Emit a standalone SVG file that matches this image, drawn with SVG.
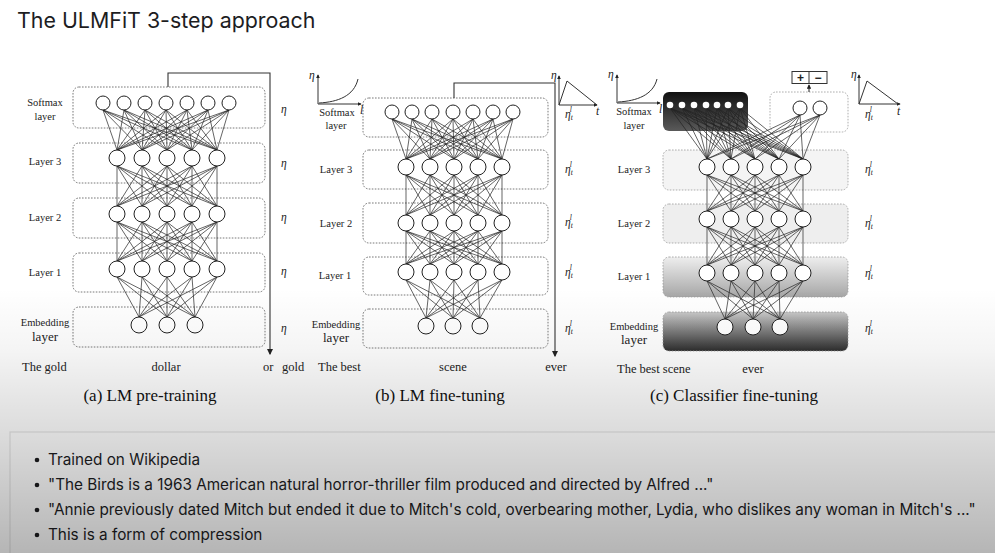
<svg xmlns="http://www.w3.org/2000/svg" width="995" height="553" viewBox="0 0 995 553">
<style>
.n{fill:#fff;stroke:#222;stroke-width:1}
.e{fill:none;stroke:#222;stroke-width:0.7}
.bx{fill:none;stroke:#555;stroke-width:0.8;stroke-dasharray:1.6 1.4}
.bxc{stroke:#999;stroke-width:0.8;stroke-dasharray:1.6 1.4}
.lbl{font-family:"Liberation Serif",serif;font-size:10.5px;fill:#222;text-anchor:middle}
.lbl2{font-family:"Liberation Serif",serif;font-size:13px;fill:#222;text-anchor:middle}
.eta{font-family:"Liberation Serif",serif;font-size:11.5px;font-style:italic;fill:#222}
.wd{font-family:"Liberation Serif",serif;font-size:12.5px;fill:#222}
.cap{font-family:"Liberation Serif",serif;font-size:17px;fill:#111;text-anchor:middle}
.bul{font-family:Inter,"Liberation Sans",sans-serif;font-size:15.3px;fill:#1d1d1f}
.ax{fill:none;stroke:#333;stroke-width:1}
.arr{fill:none;stroke:#333;stroke-width:1.1}
</style>
<defs>
<marker id="ah" viewBox="0 0 6 6" refX="5" refY="3" markerWidth="6" markerHeight="6" orient="auto"><path d="M0 0L6 3L0 6z" fill="#222"/></marker>
<marker id="sa" viewBox="0 0 6 6" refX="5" refY="3" markerWidth="4" markerHeight="4" orient="auto"><path d="M0 0L6 3L0 6z" fill="#222"/></marker>
<linearGradient id="gDark" x1="0" y1="0" x2="0" y2="1"><stop offset="0" stop-color="#111"/><stop offset="1" stop-color="#5a5a5a"/></linearGradient>
<linearGradient id="gL1" x1="0" y1="0" x2="0" y2="1"><stop offset="0" stop-color="#eeeeee"/><stop offset="1" stop-color="#a6a6a6"/></linearGradient>
<linearGradient id="gEmb" x1="0" y1="0" x2="0" y2="1"><stop offset="0" stop-color="#c8c8c8"/><stop offset="1" stop-color="#2e2e2e"/></linearGradient>
<linearGradient id="shade" gradientUnits="userSpaceOnUse" x1="0" y1="0" x2="0" y2="553">
<stop offset="0.52" stop-color="#000" stop-opacity="0"/>
<stop offset="0.63" stop-color="#000" stop-opacity="0.04"/>
<stop offset="0.72" stop-color="#000" stop-opacity="0.1"/>
<stop offset="0.8" stop-color="#000" stop-opacity="0.15"/>
<stop offset="1" stop-color="#000" stop-opacity="0.29"/>
</linearGradient>
</defs>
<rect width="995" height="553" fill="#fff"/>
<text x="17" y="28" font-family="Inter,'Liberation Sans',sans-serif" font-size="21.4" fill="#1d1d1f">The ULMFiT 3-step approach</text>

<!-- Panel a boxes -->
<g id="a-boxes">
<rect class="bx" x="73" y="87" width="192" height="41" rx="6"/>
<rect class="bx" x="73" y="143" width="192" height="40" rx="6"/>
<rect class="bx" x="73" y="198" width="192" height="40" rx="6"/>
<rect class="bx" x="73" y="253" width="192" height="39" rx="6"/>
<rect class="bx" x="73" y="307" width="192" height="40" rx="6"/>
</g>
<!-- Panel b boxes -->
<g id="b-boxes">
<rect class="bx" x="363" y="98" width="185" height="39" rx="6"/>
<rect class="bx" x="363" y="150" width="185" height="39" rx="6"/>
<rect class="bx" x="363" y="203" width="185" height="40" rx="6"/>
<rect class="bx" x="363" y="257" width="185" height="38" rx="6"/>
<rect class="bx" x="363" y="309" width="185" height="39" rx="6"/>
</g>
<!-- Panel c boxes -->
<g id="c-boxes">
<rect x="663" y="92" width="85" height="39" rx="6" fill="url(#gDark)"/>
<rect class="bxc" x="770" y="92" width="78" height="40" rx="6" fill="none"/>
<rect class="bxc" x="663" y="150" width="185" height="40" rx="6" fill="#f4f4f4"/>
<rect class="bxc" x="663" y="204" width="185" height="39" rx="6" fill="#eeeeee"/>
<rect class="bxc" x="663" y="257" width="185" height="40" rx="6" fill="url(#gL1)"/>
<rect class="bxc" x="663" y="312" width="185" height="39" rx="6" fill="url(#gEmb)"/>
</g>

<g id="connectors">
<path class="e" d="M103 110L117 150M103 110L142 150M103 110L167 150M103 110L192 150M103 110L217 150M124 110L117 150M124 110L142 150M124 110L167 150M124 110L192 150M124 110L217 150M145 110L117 150M145 110L142 150M145 110L167 150M145 110L192 150M145 110L217 150M166 110L117 150M166 110L142 150M166 110L167 150M166 110L192 150M166 110L217 150M187 110L117 150M187 110L142 150M187 110L167 150M187 110L192 150M187 110L217 150M208 110L117 150M208 110L142 150M208 110L167 150M208 110L192 150M208 110L217 150M229 110L117 150M229 110L142 150M229 110L167 150M229 110L192 150M229 110L217 150"/>
<path class="e" d="M117 166L117 206M117 166L142 206M117 166L167 206M117 166L192 206M117 166L217 206M142 166L117 206M142 166L142 206M142 166L167 206M142 166L192 206M142 166L217 206M167 166L117 206M167 166L142 206M167 166L167 206M167 166L192 206M167 166L217 206M192 166L117 206M192 166L142 206M192 166L167 206M192 166L192 206M192 166L217 206M217 166L117 206M217 166L142 206M217 166L167 206M217 166L192 206M217 166L217 206"/>
<path class="e" d="M117 222L117 261M117 222L142 261M117 222L167 261M117 222L192 261M117 222L217 261M142 222L117 261M142 222L142 261M142 222L167 261M142 222L192 261M142 222L217 261M167 222L117 261M167 222L142 261M167 222L167 261M167 222L192 261M167 222L217 261M192 222L117 261M192 222L142 261M192 222L167 261M192 222L192 261M192 222L217 261M217 222L117 261M217 222L142 261M217 222L167 261M217 222L192 261M217 222L217 261"/>
<path class="e" d="M117 277L139 317M117 277L167 317M117 277L195 317M142 277L139 317M142 277L167 317M142 277L195 317M167 277L139 317M167 277L167 317M167 277L195 317M192 277L139 317M192 277L167 317M192 277L195 317M217 277L139 317M217 277L167 317M217 277L195 317"/>

<path class="e" d="M392 119L406 159M392 119L430 159M392 119L454 159M392 119L478 159M392 119L502 159M412 119L406 159M412 119L430 159M412 119L454 159M412 119L478 159M412 119L502 159M432 119L406 159M432 119L430 159M432 119L454 159M432 119L478 159M432 119L502 159M453 119L406 159M453 119L430 159M453 119L454 159M453 119L478 159M453 119L502 159M473 119L406 159M473 119L430 159M473 119L454 159M473 119L478 159M473 119L502 159M493 119L406 159M493 119L430 159M493 119L454 159M493 119L478 159M493 119L502 159M513 119L406 159M513 119L430 159M513 119L454 159M513 119L478 159M513 119L502 159"/>
<path class="e" d="M406 175L406 215M406 175L430 215M406 175L454 215M406 175L478 215M406 175L502 215M430 175L406 215M430 175L430 215M430 175L454 215M430 175L478 215M430 175L502 215M454 175L406 215M454 175L430 215M454 175L454 215M454 175L478 215M454 175L502 215M478 175L406 215M478 175L430 215M478 175L454 215M478 175L478 215M478 175L502 215M502 175L406 215M502 175L430 215M502 175L454 215M502 175L478 215M502 175L502 215"/>
<path class="e" d="M406 231L406 264M406 231L430 264M406 231L454 264M406 231L478 264M406 231L502 264M430 231L406 264M430 231L430 264M430 231L454 264M430 231L478 264M430 231L502 264M454 231L406 264M454 231L430 264M454 231L454 264M454 231L478 264M454 231L502 264M478 231L406 264M478 231L430 264M478 231L454 264M478 231L478 264M478 231L502 264M502 231L406 264M502 231L430 264M502 231L454 264M502 231L478 264M502 231L502 264"/>
<path class="e" d="M406 280L426 318M406 280L453 318M406 280L480 318M430 280L426 318M430 280L453 318M430 280L480 318M454 280L426 318M454 280L453 318M454 280L480 318M478 280L426 318M478 280L453 318M478 280L480 318M502 280L426 318M502 280L453 318M502 280L480 318"/>

<path class="e" d="M670 108L707 159M670 108L731 159M670 108L755 159M670 108L779 159M670 108L803 159M682 108L707 159M682 108L731 159M682 108L755 159M682 108L779 159M682 108L803 159M694 108L707 159M694 108L731 159M694 108L755 159M694 108L779 159M694 108L803 159M706 108L707 159M706 108L731 159M706 108L755 159M706 108L779 159M706 108L803 159M717 108L707 159M717 108L731 159M717 108L755 159M717 108L779 159M717 108L803 159M728 108L707 159M728 108L731 159M728 108L755 159M728 108L779 159M728 108L803 159M740 108L707 159M740 108L731 159M740 108L755 159M740 108L779 159M740 108L803 159"/>
<path class="e" d="M800 115L707 159M800 115L731 159M800 115L755 159M800 115L779 159M800 115L803 159M820 115L707 159M820 115L731 159M820 115L755 159M820 115L779 159M820 115L803 159"/>
<path class="e" d="M707 175L707 211M707 175L731 211M707 175L755 211M707 175L779 211M707 175L803 211M731 175L707 211M731 175L731 211M731 175L755 211M731 175L779 211M731 175L803 211M755 175L707 211M755 175L731 211M755 175L755 211M755 175L779 211M755 175L803 211M779 175L707 211M779 175L731 211M779 175L755 211M779 175L779 211M779 175L803 211M803 175L707 211M803 175L731 211M803 175L755 211M803 175L779 211M803 175L803 211"/>
<path class="e" d="M707 227L707 265M707 227L731 265M707 227L755 265M707 227L779 265M707 227L803 265M731 227L707 265M731 227L731 265M731 227L755 265M731 227L779 265M731 227L803 265M755 227L707 265M755 227L731 265M755 227L755 265M755 227L779 265M755 227L803 265M779 227L707 265M779 227L731 265M779 227L755 265M779 227L779 265M779 227L803 265M803 227L707 265M803 227L731 265M803 227L755 265M803 227L779 265M803 227L803 265"/>
<path class="e" d="M707 281L725 319M707 281L753 319M707 281L780 319M731 281L725 319M731 281L753 319M731 281L780 319M755 281L725 319M755 281L753 319M755 281L780 319M779 281L725 319M779 281L753 319M779 281L780 319M803 281L725 319M803 281L753 319M803 281L780 319"/>

<path class="arr" d="M168 87V73H270V354" marker-end="url(#ah)"/>
<path class="arr" d="M454 98V83H555V356" marker-end="url(#ah)"/>
<path class="arr" d="M809 92V85" marker-end="url(#sa)"/>
</g>

<!-- Panel a nodes -->
<g id="a-softmax"><circle class="n" cx="103" cy="103" r="7"/><circle class="n" cx="124" cy="103" r="7"/><circle class="n" cx="145" cy="103" r="7"/><circle class="n" cx="166" cy="103" r="7"/><circle class="n" cx="187" cy="103" r="7"/><circle class="n" cx="208" cy="103" r="7"/><circle class="n" cx="229" cy="103" r="7"/></g>
<g id="a-layer3"><circle class="n" cx="117" cy="158" r="8"/><circle class="n" cx="142" cy="158" r="8"/><circle class="n" cx="167" cy="158" r="8"/><circle class="n" cx="192" cy="158" r="8"/><circle class="n" cx="217" cy="158" r="8"/></g>
<g id="a-layer2"><circle class="n" cx="117" cy="214" r="8"/><circle class="n" cx="142" cy="214" r="8"/><circle class="n" cx="167" cy="214" r="8"/><circle class="n" cx="192" cy="214" r="8"/><circle class="n" cx="217" cy="214" r="8"/></g>
<g id="a-layer1"><circle class="n" cx="117" cy="269" r="8"/><circle class="n" cx="142" cy="269" r="8"/><circle class="n" cx="167" cy="269" r="8"/><circle class="n" cx="192" cy="269" r="8"/><circle class="n" cx="217" cy="269" r="8"/></g>
<g id="a-emb"><circle class="n" cx="139" cy="325" r="8"/><circle class="n" cx="167" cy="325" r="8"/><circle class="n" cx="195" cy="325" r="8"/></g>

<!-- Panel b nodes -->
<g id="b-softmax"><circle class="n" cx="392" cy="112" r="7"/><circle class="n" cx="412" cy="112" r="7"/><circle class="n" cx="432" cy="112" r="7"/><circle class="n" cx="453" cy="112" r="7"/><circle class="n" cx="473" cy="112" r="7"/><circle class="n" cx="493" cy="112" r="7"/><circle class="n" cx="513" cy="112" r="7"/></g>
<g id="b-layer3"><circle class="n" cx="406" cy="167" r="8"/><circle class="n" cx="430" cy="167" r="8"/><circle class="n" cx="454" cy="167" r="8"/><circle class="n" cx="478" cy="167" r="8"/><circle class="n" cx="502" cy="167" r="8"/></g>
<g id="b-layer2"><circle class="n" cx="406" cy="223" r="8"/><circle class="n" cx="430" cy="223" r="8"/><circle class="n" cx="454" cy="223" r="8"/><circle class="n" cx="478" cy="223" r="8"/><circle class="n" cx="502" cy="223" r="8"/></g>
<g id="b-layer1"><circle class="n" cx="406" cy="272" r="8"/><circle class="n" cx="430" cy="272" r="8"/><circle class="n" cx="454" cy="272" r="8"/><circle class="n" cx="478" cy="272" r="8"/><circle class="n" cx="502" cy="272" r="8"/></g>
<g id="b-emb"><circle class="n" cx="426" cy="326" r="8"/><circle class="n" cx="453" cy="326" r="8"/><circle class="n" cx="480" cy="326" r="8"/></g>

<!-- Panel c nodes -->
<g id="c-softmax" fill="#fff"><circle cx="670" cy="105" r="3.3"/><circle cx="682" cy="105" r="3.3"/><circle cx="694" cy="105" r="3.3"/><circle cx="706" cy="105" r="3.3"/><circle cx="717" cy="105" r="3.3"/><circle cx="728" cy="105" r="3.3"/><circle cx="740" cy="105" r="3.3"/></g>
<g id="c-classifier"><circle class="n" cx="800" cy="108" r="7"/><circle class="n" cx="820" cy="108" r="7"/></g>
<g id="c-output"><rect x="792" y="71.5" width="35" height="12" fill="#fff" stroke="#333" stroke-width="1"/><line x1="809" y1="71.5" x2="809" y2="83.5" stroke="#333" stroke-width="1"/><text x="800.5" y="81.8" font-family="'Liberation Sans',sans-serif" font-size="12" font-weight="bold" text-anchor="middle" fill="#222">+</text><text x="818" y="81.8" font-family="'Liberation Sans',sans-serif" font-size="12" font-weight="bold" text-anchor="middle" fill="#222">−</text></g>
<g id="c-layer3"><circle class="n" cx="707" cy="167" r="8"/><circle class="n" cx="731" cy="167" r="8"/><circle class="n" cx="755" cy="167" r="8"/><circle class="n" cx="779" cy="167" r="8"/><circle class="n" cx="803" cy="167" r="8"/></g>
<g id="c-layer2"><circle class="n" cx="707" cy="219" r="8"/><circle class="n" cx="731" cy="219" r="8"/><circle class="n" cx="755" cy="219" r="8"/><circle class="n" cx="779" cy="219" r="8"/><circle class="n" cx="803" cy="219" r="8"/></g>
<g id="c-layer1"><circle class="n" cx="707" cy="273" r="8"/><circle class="n" cx="731" cy="273" r="8"/><circle class="n" cx="755" cy="273" r="8"/><circle class="n" cx="779" cy="273" r="8"/><circle class="n" cx="803" cy="273" r="8"/></g>
<g id="c-emb"><circle class="n" cx="725" cy="327" r="8"/><circle class="n" cx="753" cy="327" r="8"/><circle class="n" cx="780" cy="327" r="8"/></g>

<!-- graphs -->
<g id="b-graph-left">
<path class="ax" d="M318 104V75" marker-end="url(#sa)"/><path class="ax" d="M318 104H361" marker-end="url(#sa)"/>
<path class="ax" d="M319 103C338 102 354 96 358 79"/>
<text class="eta" x="309" y="79" font-size="9">η</text><text class="eta" x="360" y="114" font-size="10">l</text>
</g>
<g id="b-graph-right">
<path class="ax" d="M559 105V76" marker-end="url(#sa)"/><path class="ax" d="M559 105H597" marker-end="url(#sa)"/>
<path class="ax" d="M559 105L567 81L597 105"/>
<text class="eta" x="551" y="79" font-size="9">η</text><text class="eta" x="596" y="115" font-size="10">t</text>
</g>
<g id="c-graph-left">
<path class="ax" d="M617 103V75" marker-end="url(#sa)"/><path class="ax" d="M617 103H660" marker-end="url(#sa)"/>
<path class="ax" d="M618 102C637 101 653 95 657 79"/>
<text class="eta" x="608" y="78" font-size="9">η</text><text class="eta" x="659" y="113" font-size="10">l</text>
</g>
<g id="c-graph-right">
<path class="ax" d="M859 104V75" marker-end="url(#sa)"/><path class="ax" d="M859 104H900" marker-end="url(#sa)"/>
<path class="ax" d="M859 104L867 81L898 104"/>
<text class="eta" x="851" y="78" font-size="9">η</text><text class="eta" x="897" y="115" font-size="10">t</text>
</g>

<!-- labels a -->
<g id="a-labels">
<text class="lbl" x="45" y="106">Softmax</text><text class="lbl" x="45" y="120">layer</text>
<text class="lbl" x="45" y="165">Layer 3</text><text class="lbl" x="45" y="221">Layer 2</text><text class="lbl" x="45" y="276">Layer 1</text>
<text class="lbl" x="45" y="326">Embedding</text><text class="lbl2" x="45" y="341">layer</text>
<text class="eta" x="281" y="113">η</text><text class="eta" x="281" y="167">η</text><text class="eta" x="281" y="221">η</text><text class="eta" x="281" y="275">η</text><text class="eta" x="281" y="332">η</text>
<text class="wd" x="22" y="371">The gold</text><text class="wd" x="166" y="371" text-anchor="middle">dollar</text><text class="wd" x="263" y="371">or</text><text class="wd" x="282" y="371">gold</text>
<text class="cap" x="150" y="401">(a) LM pre-training</text>
</g>
<g id="b-labels">
<text class="lbl" x="337" y="116">Softmax</text><text class="lbl" x="336" y="129">layer</text>
<text class="lbl" x="336" y="173">Layer 3</text><text class="lbl" x="336" y="227">Layer 2</text><text class="lbl" x="335" y="279">Layer 1</text>
<text class="lbl" x="336" y="328">Embedding</text><text class="lbl2" x="336" y="342">layer</text>
<text class="eta" x="565" y="118">η<tspan font-size="7.5" dy="2">t</tspan><tspan font-size="7.5" dx="-3" dy="-8">l</tspan></text>
<text class="eta" x="565" y="173">η<tspan font-size="7.5" dy="2">t</tspan><tspan font-size="7.5" dx="-3" dy="-8">l</tspan></text>
<text class="eta" x="565" y="226">η<tspan font-size="7.5" dy="2">t</tspan><tspan font-size="7.5" dx="-3" dy="-8">l</tspan></text>
<text class="eta" x="565" y="276">η<tspan font-size="7.5" dy="2">t</tspan><tspan font-size="7.5" dx="-3" dy="-8">l</tspan></text>
<text class="eta" x="565" y="332">η<tspan font-size="7.5" dy="2">t</tspan><tspan font-size="7.5" dx="-3" dy="-8">l</tspan></text>
<text class="wd" x="318" y="371">The best</text><text class="wd" x="453" y="371" text-anchor="middle">scene</text><text class="wd" x="556" y="371" text-anchor="middle">ever</text>
<text class="cap" x="440" y="401">(b) LM fine-tuning</text>
</g>
<g id="c-labels">
<text class="lbl" x="634" y="115">Softmax</text><text class="lbl" x="634" y="129">layer</text>
<text class="lbl" x="634" y="173">Layer 3</text><text class="lbl" x="634" y="227">Layer 2</text><text class="lbl" x="634" y="280">Layer 1</text>
<text class="lbl" x="634" y="330">Embedding</text><text class="lbl2" x="634" y="344">layer</text>
<text class="eta" x="865" y="118">η<tspan font-size="7.5" dy="2">t</tspan><tspan font-size="7.5" dx="-3" dy="-8">l</tspan></text>
<text class="eta" x="865" y="173">η<tspan font-size="7.5" dy="2">t</tspan><tspan font-size="7.5" dx="-3" dy="-8">l</tspan></text>
<text class="eta" x="865" y="227">η<tspan font-size="7.5" dy="2">t</tspan><tspan font-size="7.5" dx="-3" dy="-8">l</tspan></text>
<text class="eta" x="865" y="277">η<tspan font-size="7.5" dy="2">t</tspan><tspan font-size="7.5" dx="-3" dy="-8">l</tspan></text>
<text class="eta" x="865" y="332">η<tspan font-size="7.5" dy="2">t</tspan><tspan font-size="7.5" dx="-3" dy="-8">l</tspan></text>
<text class="wd" x="617" y="373">The best scene</text><text class="wd" x="753" y="373" text-anchor="middle">ever</text>
<text class="cap" x="734" y="401">(c) Classifier fine-tuning</text>
</g>

<g id="notes">
<rect x="10" y="432" width="1000" height="140" fill="none" stroke="#e4e4e4" stroke-width="1.2"/>
<circle cx="37" cy="460" r="2.3" fill="#1d1d1f"/><text class="bul" x="48" y="465">Trained on Wikipedia</text>
<circle cx="37" cy="485" r="2.3" fill="#1d1d1f"/><text class="bul" x="48" y="490">"The Birds is a 1963 American natural horror-thriller film produced and directed by Alfred ..."</text>
<circle cx="37" cy="510" r="2.3" fill="#1d1d1f"/><text class="bul" x="48" y="515">"Annie previously dated Mitch but ended it due to Mitch's cold, overbearing mother, Lydia, who dislikes any woman in Mitch's ..."</text>
<circle cx="37" cy="535" r="2.3" fill="#1d1d1f"/><text class="bul" x="48" y="540">This is a form of compression</text>
</g>
<rect width="995" height="553" fill="url(#shade)" pointer-events="none"/>
</svg>
